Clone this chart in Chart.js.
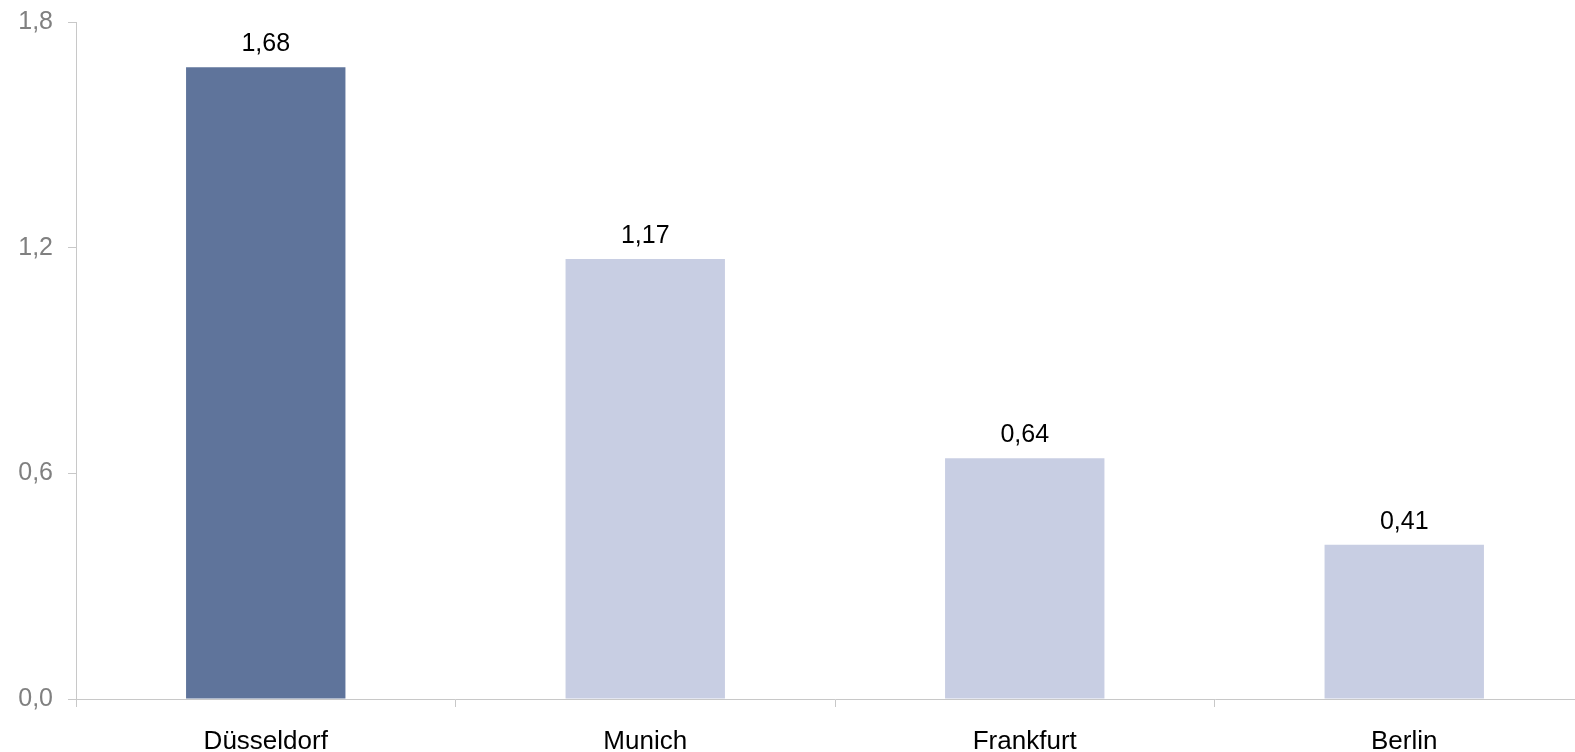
<!DOCTYPE html>
<html>
<head>
<meta charset="utf-8">
<script src="https://cdn.jsdelivr.net/npm/chart.js@4/dist/chart.umd.min.js"></script>
<style>
  html, body { margin: 0; padding: 0; background: #fff; overflow: hidden; }
  #wrap { width: 1600px; height: 752px; position: relative; }
</style>
</head>
<body>
<div id="wrap"><canvas id="chart"></canvas></div>
<script>
const cities = ['Düsseldorf', 'Munich', 'Frankfurt', 'Berlin'];
const values = [1.68, 1.17, 0.64, 0.41];
const barColors = ['#5f749b', '#c8cee3', '#c8cee3', '#c8cee3'];
const yTicks = [0, 0.6, 1.2, 1.8];

const fmt = (v, d) => v.toFixed(d).replace('.', ',');

// value labels above each bar
const valueLabels = {
  id: 'valueLabels',
  afterDatasetsDraw(chart) {
    const ctx = chart.ctx;
    const meta = chart.getDatasetMeta(0);
    ctx.save();
    ctx.font = '25px "Liberation Sans", Arial, sans-serif';
    ctx.fillStyle = '#000';
    ctx.textAlign = 'center';
    ctx.textBaseline = 'middle';
    meta.data.forEach((bar, i) => {
      ctx.fillText(fmt(values[i], 2), bar.x, bar.y - 23);
    });
    ctx.restore();
  }
};

new Chart(document.getElementById('chart'), {
  type: 'bar',
  data: {
    labels: cities,
    datasets: [{
      data: values,
      backgroundColor: barColors,
      borderWidth: 0,
      categoryPercentage: 1,
      barPercentage: 0.42,
    }],
  },
  options: {
    responsive: true,
    maintainAspectRatio: false,
    animation: false,
    layout: { padding: { top: 22, right: 6, left: 0, bottom: 0 } },
    plugins: {
      legend: { display: false },
      tooltip: { enabled: false },
    },
    scales: {
      x: {
        grid: {
          offset: true,
          drawOnChartArea: false,
          drawTicks: true,
          tickLength: 8,
          color: '#c8c8c8',
        },
        border: { color: '#c8c8c8' },
        ticks: {
          color: '#000',
          padding: 19,
          font: { family: '"Liberation Sans", Arial, sans-serif', size: 26 },
        },
        afterFit(scale) { scale.height = 53; scale.paddingRight = 0; },
      },
      y: {
        min: 0,
        max: 1.8,
        afterBuildTicks(scale) {
          scale.ticks = yTicks.map(v => ({ value: v }));
        },
        grid: {
          drawOnChartArea: false,
          drawTicks: true,
          tickLength: 8,
          color: '#c8c8c8',
        },
        border: { color: '#c8c8c8' },
        ticks: {
          color: '#808080',
          padding: 15,
          font: { family: '"Liberation Sans", Arial, sans-serif', size: 25 },
          callback: v => fmt(v, 1),
        },
        afterFit(scale) {
          scale.width = 76;
          scale.paddingTop = 0;
          scale.paddingBottom = 0;
        },
      },
    },
  },
  plugins: [valueLabels],
});
</script>
</body>
</html>
